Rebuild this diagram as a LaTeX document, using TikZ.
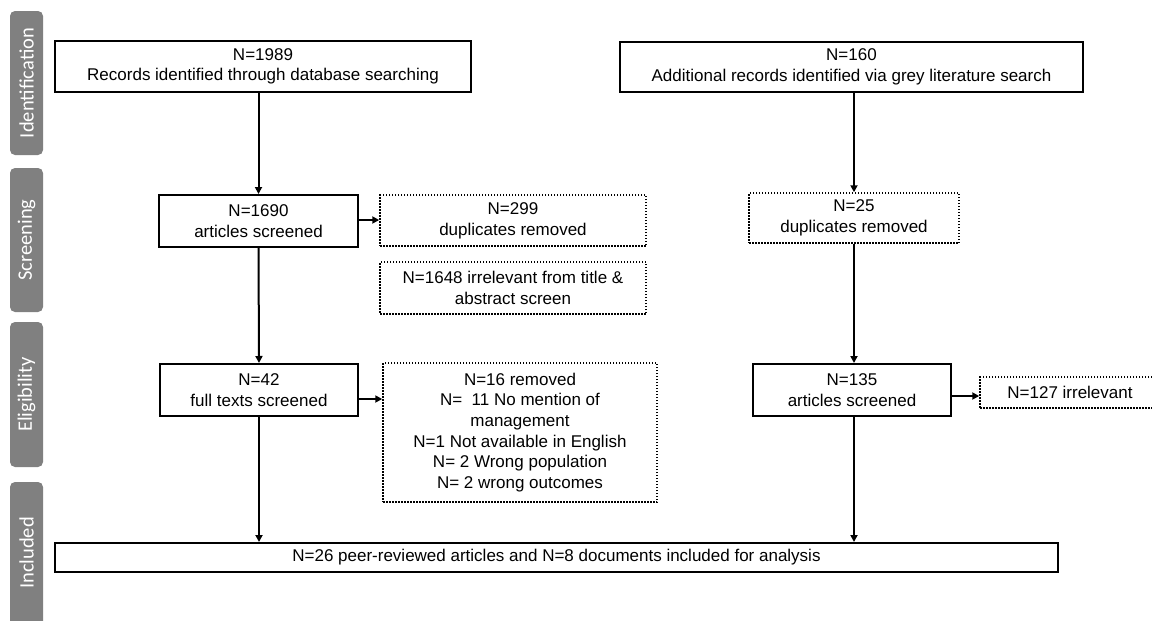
\documentclass[tikz,border=0pt]{standalone}
\usepackage{fontspec}
\setmainfont{Liberation Sans}
\newfontfamily\sidefont{Carlito}
\usetikzlibrary{arrows.meta}
\definecolor{bargray}{RGB}{128,128,128}
\tikzset{
  x=1pt, y=-1pt,
  solidbox/.style={draw=black, line width=2pt, align=center, inner sep=0pt,
    font=\fontsize{17}{20.5}\selectfont, anchor=center},
  dotbox/.style={draw=black, line width=1.5pt, dash pattern=on 1.5pt off 1.5pt,
    align=center, inner sep=0pt, font=\fontsize{17}{20.7}\selectfont, anchor=center},
  sidebar/.style={fill=bargray, rounded corners=5pt},
  sidelabel/.style={text=white, rotate=90, font=\sidefont\fontsize{20.5}{22}\selectfont},
  arr/.style={line width=2pt, -{Triangle[width=7pt,length=7pt]}},
}
\begin{document}
\begin{tikzpicture}
\useasboundingbox (0,0) rectangle (1152,621);
\clip (0,0) rectangle (1152,621);
% side bars
\fill[sidebar] (10,11) rectangle (43,155);
\node[sidelabel] (lid) at (26.5,83) {Identification};
\fill[sidebar] (10,168) rectangle (43,312);
\node[sidelabel] (lscr) at (26.5,240) {Screening};
\fill[sidebar] (10,322) rectangle (43,467);
\node[sidelabel] (lel) at (26.5,394.5) {Eligibility};
\fill[sidebar] (10,482) rectangle (43,640);
\node[sidelabel] (linc) at (26.5,553) {Included};
% boxes
\node[solidbox, minimum width=416pt, minimum height=51pt] (b1989) at (263,66.5)
  {N=1989\\Records identified through database searching};
\node[solidbox, minimum width=463pt, minimum height=50pt] (b160) at (851.5,67)
  {N=160\\Additional records identified via grey literature search};
\node[solidbox, minimum width=199pt, minimum height=52pt] (b1690) at (258.5,221)
  {N=1690\\articles screened};
\node[dotbox, minimum width=266pt, minimum height=51pt] (b299) at (513,220.5)
  {N=299\\duplicates removed};
\node[dotbox, minimum width=266pt, minimum height=52pt] (b1648) at (513,288)
  {N=1648 irrelevant from title \&\\abstract screen};
\node[dotbox, minimum width=210pt, minimum height=50pt] (b25) at (854,218)
  {N=25\\duplicates removed};
\node[solidbox, minimum width=198pt, minimum height=52pt] (b42) at (259,390)
  {N=42\\full texts screened};
\node[dotbox, minimum width=274pt, minimum height=139pt] (b16) at (520,432.5)
  {N=16 removed\\N=\ \ 11 No mention of\\management\\N=1 Not available in English\\N= 2 Wrong population\\N= 2 wrong outcomes};
\node[solidbox, minimum width=198pt, minimum height=52pt] (b135) at (852,390)
  {N=135\\articles screened};
\node[dotbox, minimum width=180pt, minimum height=31pt] (b127) at (1070,392.5)
  {N=127 irrelevant};
\node[solidbox, minimum width=1003pt, minimum height=29pt] (final) at (556.5,557.5)
  {N=26 peer-reviewed articles and N=8 documents included for analysis};
% arrows
\draw[arr] (b1690.north |- b1989.south) -- (b1690.north);
\draw[arr] (b1690.south) -- (b42.north);
\draw[arr] (b42.south) -- (b42.south |- final.north);
\draw[arr] (b25.north |- b160.south) -- (b25.north);
\draw[arr] (b25.south) -- (b25.south |- b135.north);
\draw[arr] (b25.south |- b135.south) -- (b25.south |- final.north);
\draw[arr] ([yshift=1pt]b1690.east) -- ([yshift=1pt]b1690.east -| b299.west);
\draw[arr] ([yshift=-9pt]b42.east) -- ([yshift=-9pt]b42.east -| b16.west);
\draw[arr] ([yshift=-6pt]b135.east) -- ([yshift=-6pt]b135.east -| b127.west);
\end{tikzpicture}
\end{document}
